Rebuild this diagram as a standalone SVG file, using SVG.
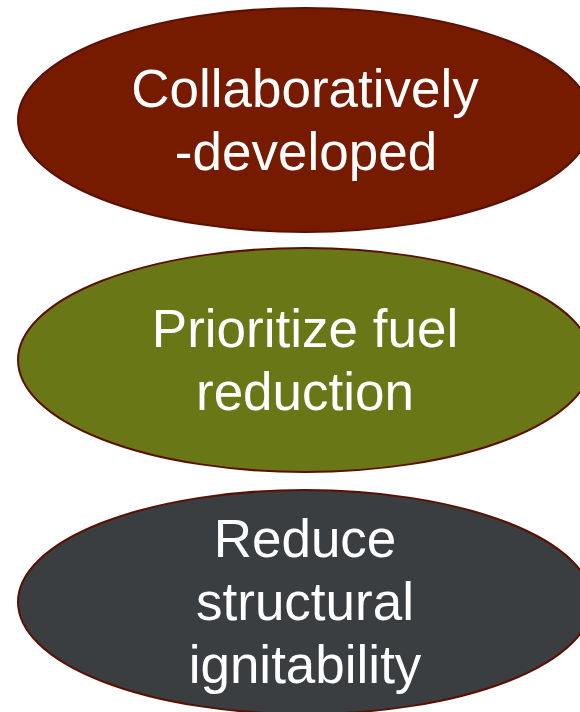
<svg xmlns="http://www.w3.org/2000/svg" width="580" height="712" viewBox="0 0 580 712">
<style>
.node ellipse{stroke:#5a1104;stroke-width:2}
.lbl{font-family:"Liberation Sans",Arial,sans-serif;font-size:53px;fill:#ffffff;text-anchor:middle}
</style>
<rect width="580" height="712" fill="#ffffff"/>
<g id="connectors"></g>
<g id="node1" class="node">
<ellipse cx="305" cy="120" rx="287" ry="112" fill="#761a00"/>
<text class="lbl" x="305" y="107">Collaboratively</text>
<text class="lbl" x="306" y="170">-developed</text>
</g>
<g id="node2" class="node">
<ellipse cx="305" cy="360" rx="287" ry="112" fill="#6a7717"/>
<text class="lbl" x="305" y="347">Prioritize fuel</text>
<text class="lbl" x="305" y="410">reduction</text>
</g>
<g id="node3" class="node">
<ellipse cx="305" cy="602" rx="287" ry="112" fill="#3a3e40"/>
<text class="lbl" x="305" y="557">Reduce</text>
<text class="lbl" x="305" y="620">structural</text>
<text class="lbl" x="305" y="683">ignitability</text>
</g>
</svg>
